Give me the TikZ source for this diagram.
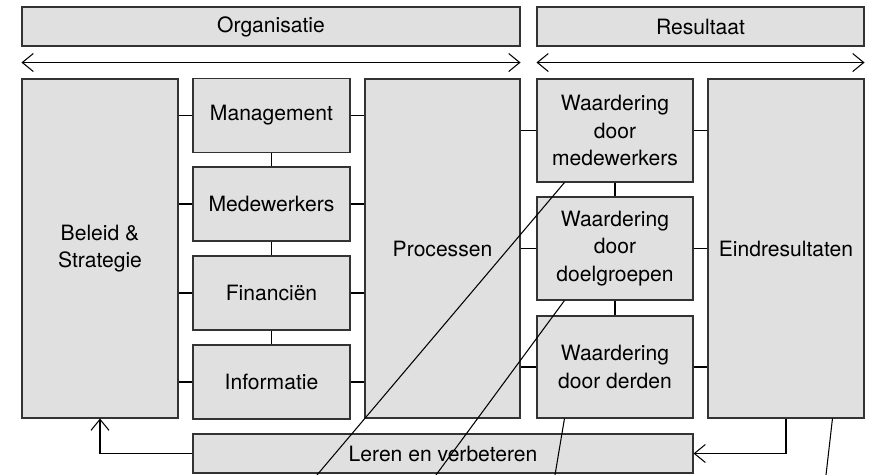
\documentclass[tikz,border=0pt]{standalone}
\usepackage{fontspec}
\setmainfont{TeX Gyre Heros}
\usetikzlibrary{arrows.meta}

\tikzset{
    blok/.style={draw=black!80, fill=black!12, line width=0.6pt, align=center,
        inner sep=0pt, font=\fontsize{12}{15.5}\selectfont},
    lijn/.style={line width=0.6pt},
    >={Straight Barb[length=2.2mm,width=3.6mm]}
}

\begin{document}
\begin{tikzpicture}
    \useasboundingbox (0,0) rectangle (17.4,9.5);

    % Kopjes
    \node[blok, minimum width=9.96cm, minimum height=0.78cm] (organisatie) at (5.42,8.97) {Organisatie};
    \node[blok, minimum width=6.54cm, minimum height=0.78cm] (resultaat) at (14.01,8.97) {Resultaat};
    \draw[lijn,<->] (organisatie.south west) ++(0,-0.32) coordinate (o1) -- (organisatie.south east |- o1);
    \draw[lijn,<->] (resultaat.south west) ++(0,-0.32) coordinate (r1) -- (resultaat.south east |- r1);

    % Organisatie
    \node[blok, minimum width=3.12cm, minimum height=6.78cm] (beleid) at (2.0,4.53) {Beleid \&\\Strategie};
    \node[blok, minimum width=3.14cm, minimum height=1.48cm] (management) at (5.43,7.19) {Management};
    \node[blok, minimum width=3.14cm, minimum height=1.48cm] (medewerkers) at (5.43,5.42) {Medewerkers};
    \node[blok, minimum width=3.14cm, minimum height=1.48cm] (financien) at (5.43,3.64) {Financiën};
    \node[blok, minimum width=3.14cm, minimum height=1.48cm] (informatie) at (5.43,1.86) {Informatie};
    \node[blok, minimum width=3.10cm, minimum height=6.78cm] (processen) at (8.85,4.53) {Processen};

    % Resultaat
    \node[blok, minimum width=3.12cm, minimum height=2.06cm] (wmedew) at (12.3,6.89) {Waardering\\door\\medewerkers};
    \node[blok, minimum width=3.12cm, minimum height=2.06cm] (wdoel) at (12.3,4.53) {Waardering\\door\\doelgroepen};
    \node[blok, minimum width=3.12cm, minimum height=2.04cm] (wderden) at (12.3,2.16) {Waardering\\door derden};
    \node[blok, minimum width=3.12cm, minimum height=6.78cm] (eind) at (15.72,4.53) {Eindresultaten};

    % Leren
    \node[blok, minimum width=10.0cm, minimum height=0.78cm] (leren) at (8.86,0.43) {Leren en verbeteren};

    % Verbindingen
    \foreach \b in {management,medewerkers,financien,informatie} {
        \draw[lijn] (beleid.east |- \b.west) -- (\b.west);
        \draw[lijn] (\b.east) -- (processen.west |- \b.east);
    }
    \draw[lijn] (management) -- (medewerkers);
    \draw[lijn] (medewerkers) -- (financien);
    \draw[lijn] (financien) -- (informatie);
    \foreach \w in {wmedew,wdoel,wderden} {
        \draw[lijn] (processen.east |- \w.west) -- (\w.west);
        \draw[lijn] (\w.east) -- (eind.west |- \w.east);
    }
    \draw[lijn] (wmedew) -- (wdoel);
    \draw[lijn] (wdoel) -- (wderden);

    \draw[lijn,->] (leren.west) -| (beleid.south);
    \draw[lijn,->] (eind.south) |- (leren.east);

    % Schuine lijnen
    \coordinate (s1) at (6.34,0);
    \coordinate (s2) at (8.72,0);
    \coordinate (s3) at (11.1,0);
    \coordinate (s4) at (16.52,0);
    \draw[lijn] ([xshift=0.56cm]wmedew.south west) -- (s1);
    \draw[lijn] ([xshift=0.56cm]wdoel.south west) -- (s2);
    \draw[lijn] ([xshift=0.56cm]wderden.south west) -- (s3);
    \draw[lijn] ([xshift=2.5cm]eind.south west) -- (s4);
\end{tikzpicture}
\end{document}
